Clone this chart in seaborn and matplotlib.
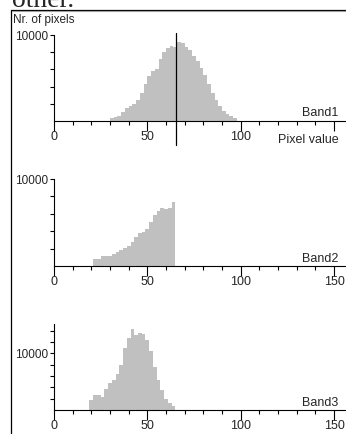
import numpy as np
import matplotlib
matplotlib.use("Agg")
import matplotlib.pyplot as plt
from matplotlib.lines import Line2D
import seaborn as sns

# ---- data (2-unit bins, counts) ----
band1_bins = [30, 32, 34, 36, 38, 40, 42, 44, 46, 48, 50, 52, 54, 56, 58, 60, 62,
              64, 66, 68, 70, 72, 74, 76, 78, 80, 82, 84, 86, 88, 90, 92, 94, 96]
band1_counts = [400, 450, 600, 1000, 1500, 1800, 2000, 2400, 3200, 4300, 5200, 5800,
                6100, 7200, 8000, 8500, 8700, 8650, 9200, 9050, 8600, 8200, 7600, 7000,
                6200, 5300, 4300, 3300, 2400, 1700, 1200, 850, 600, 350]

band2_bins = [21, 23, 25, 27, 29, 31, 33, 35, 37, 39, 41, 43, 45, 47, 49, 51, 53, 55,
              57, 59, 61, 63]
band2_counts = [800, 820, 1150, 1200, 1150, 1400, 1600, 1800, 2100, 2300, 2750, 3300,
                3750, 3900, 4300, 5100, 5900, 6300, 6650, 6600, 6650, 7300]

band3_bins = [19, 21, 23, 25, 27, 29, 31, 33, 35, 37, 39, 41, 43, 45, 47, 49, 51, 53,
              55, 57, 59, 61, 63]
band3_counts = [1700, 2600, 2700, 2300, 3700, 4700, 5300, 6300, 8000, 11000, 12700,
                14200, 13300, 13500, 13400, 12400, 10400, 7500, 5300, 3500, 2000, 1300, 700]

bin_width = 2
band1_marker = 65.2
band_names = ["Band1", "Band2", "Band3"]
x_major = [0, 50, 100, 150]

W, H = 346, 434
GREY = "#c0c0c0"

sns.set_style("ticks")
plt.rcParams["font.family"] = ["Liberation Sans", "DejaVu Sans"]


def fx(x):
    return x / W


def fy(y):
    return 1 - y / H


fig = plt.figure(figsize=(W / 100, H / 100), dpi=100)

# outer frame
fig.add_artist(Line2D([fx(11.5), fx(11.5)], [0, fy(9.5)], color="black", lw=0.9))
fig.add_artist(Line2D([fx(11), 1], [fy(9.5), fy(9.5)], color="black", lw=0.9))
fig.add_artist(Line2D([fx(12), 1], [fy(10.6), fy(10.6)], color="#a0a0a0", lw=0.8))
fig.text(fx(12), fy(7), "other.", family="Liberation Serif", fontsize=20,
         va="baseline", ha="left")
fig.text(fx(13), fy(13.5), "Nr. of pixels", fontsize=8.5, va="top", ha="left")

# (axis y in px, height px of ylim, ylim top, minor y ticks, show 150 label)
panels = [
    (121, 86, 10000, [2000, 4000, 6000, 8000], False),
    (266, 87, 10000, [2000, 4000, 6000, 8000], True),
    (410, 86, 15170, [2000, 4000, 6000, 8000, 12000, 14000], True),
]
data = [(band1_bins, band1_counts), (band2_bins, band2_counts), (band3_bins, band3_counts)]

x_right = (W - 54) / 1.867

for i, ((y0, hpx, ytop, yminor, lab150), (bins, counts)) in enumerate(zip(panels, data)):
    ax = fig.add_axes([fx(54), fy(y0), (W - 54) / W, hpx / H])
    ax.patch.set_alpha(0)
    edges = list(bins) + [bins[-1] + bin_width]
    sns.histplot(x=bins, weights=counts, bins=edges, element="step", fill=True,
                 color=GREY, alpha=1, linewidth=0, ax=ax)
    ax.set_xlim(0, x_right)
    ax.set_ylim(0, ytop)
    ax.set_xlabel("")
    ax.set_ylabel("")
    sns.despine(ax=ax, top=True, right=True)
    for s in ["left", "bottom"]:
        ax.spines[s].set_linewidth(0.8)
        ax.spines[s].set_color("black")

    ax.set_xticks(x_major)
    labels = ["0", "50", "100", "150"] if lab150 else ["0", "50", "100", ""]
    ax.set_xticklabels(labels)
    ax.set_xticks(np.arange(0, 151, 10), minor=True)
    ax.set_yticks([10000])
    ax.set_yticklabels(["10000"])
    ax.set_yticks(yminor, minor=True)
    ax.tick_params(axis="x", which="major", length=7.2, width=0.8, pad=0.3,
                   labelsize=9, color="black")
    ax.tick_params(axis="x", which="minor", length=3.2, width=0.8, color="black")
    ax.tick_params(axis="y", which="both", length=3.0, width=0.8, pad=1.2,
                   labelsize=8.5, color="black")

    fig.text(fx(338), fy(y0 - 4.5), band_names[i], fontsize=9, ha="right", va="baseline")

    if i == 0:
        ax.axvline(band1_marker, ymin=(y0 - 145) / hpx, ymax=(y0 - 33) / hpx,
                   color="black", lw=0.9, clip_on=False)
        fig.text(fx(278), fy(143), "Pixel value", fontsize=9, ha="left", va="baseline")

fig.savefig("out.png", dpi=100)
